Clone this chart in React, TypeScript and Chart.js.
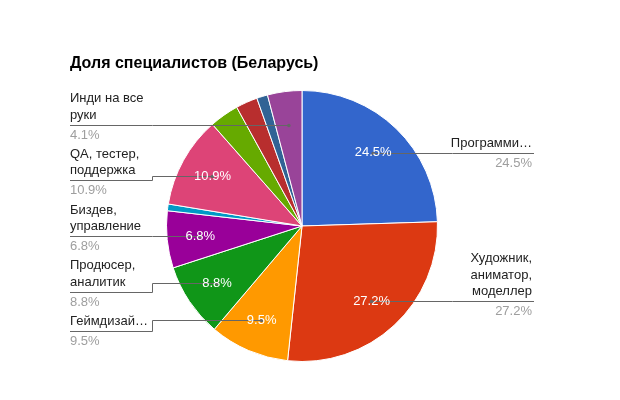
import React, { useEffect, useRef } from "react";
import { Chart, registerables } from "chart.js";

Chart.register(...registerables);

const TITLE = "Доля специалистов (Беларусь)";
const categories = [
  "Программи…",
  "Художник, аниматор, моделлер",
  "Геймдизай…",
  "Продюсер, аналитик",
  "Биздев, управление",
  "",
  "QA, тестер, поддержка",
  "",
  "",
  "",
  "Инди на все руки",
];
const values = [24.5, 27.2, 9.5, 8.8, 6.8, 0.8, 10.9, 3.5, 2.6, 1.3, 4.1];
const colors = [
  "#3366cc",
  "#dc3912",
  "#ff9900",
  "#109618",
  "#990099",
  "#0099c6",
  "#dd4477",
  "#66aa00",
  "#b82e2e",
  "#316395",
  "#994499",
];

const FONT = '"Liberation Sans", Arial, sans-serif';

function wrap(ctx: CanvasRenderingContext2D, text: string, maxW: number): string[] {
  const words = text.split(" ");
  const lines: string[] = [];
  let cur = "";
  for (const w of words) {
    const t = cur ? cur + " " + w : w;
    if (cur && ctx.measureText(t).width > maxW) {
      lines.push(cur);
      cur = w;
    } else cur = t;
  }
  if (cur) lines.push(cur);
  return lines;
}

const labelPlugin = {
  id: "labeledPie",
  afterDraw(chart: any) {
    const ctx: CanvasRenderingContext2D = chart.ctx;
    const meta = chart.getDatasetMeta(0);
    const total = values.reduce((a, b) => a + b, 0);
    ctx.save();

    ctx.font = `bold 16px ${FONT}`;
    ctx.fillStyle = "#000";
    ctx.textAlign = "left";
    ctx.textBaseline = "alphabetic";
    ctx.fillText(TITLE, 70, 68);

    const items = meta.data.map((arc: any, i: number) => {
      const p = arc.getProps(["x", "y", "startAngle", "endAngle", "outerRadius"], true);
      const mid = (p.startAngle + p.endAngle) / 2;
      const R = p.outerRadius * 0.755;
      return {
        i,
        mid,
        dx: p.x + R * Math.cos(mid),
        dy: p.y + R * Math.sin(mid),
        pct: (values[i] / total) * 100,
        lines: [] as string[],
        lineY: 0,
      };
    });

    ctx.font = `13px ${FONT}`;
    const LH = 16.5;
    const GAP = 9;
    const left: any[] = [];
    const right: any[] = [];
    items.forEach((it: any) => {
      if (!categories[it.i]) return;
      it.lines = wrap(ctx, categories[it.i], 82);
      it.lineY = it.dy;
      (Math.cos(it.mid) < 0 ? left : right).push(it);
    });
    [left, right].forEach((side) => {
      side.sort((a, b) => a.dy - b.dy);
      let prevBottom = -Infinity;
      side.forEach((l) => {
        const topOff = 6 + (l.lines.length - 1) * LH + 10;
        if (l.lineY - topOff < prevBottom + GAP) l.lineY = prevBottom + GAP + topOff;
        prevBottom = l.lineY + 14;
      });
    });

    // leader lines
    ctx.strokeStyle = "#666666";
    ctx.fillStyle = "#666666";
    ctx.lineWidth = 1;
    const drawLeader = (l: any, isLeft: boolean) => {
      const ly = Math.round(l.lineY) + 0.5;
      const dy = Math.round(l.dy) + 0.5;
      const outer = isLeft ? 70 : 534;
      const bend = isLeft ? 152.5 : 452.5;
      ctx.beginPath();
      ctx.moveTo(outer, ly);
      ctx.lineTo(bend, ly);
      ctx.lineTo(bend, dy);
      ctx.lineTo(l.dx, dy);
      ctx.stroke();
      ctx.beginPath();
      ctx.arc(l.dx, dy, 1.8, 0, Math.PI * 2);
      ctx.fill();
    };
    left.forEach((l) => drawLeader(l, true));
    right.forEach((l) => drawLeader(l, false));

    // slice texts
    ctx.font = `13px ${FONT}`;
    ctx.fillStyle = "#ffffff";
    ctx.textAlign = "center";
    ctx.textBaseline = "middle";
    items.forEach((it: any) => {
      if (it.pct >= 5) ctx.fillText(it.pct.toFixed(1) + "%", it.dx, it.dy);
    });

    // label texts
    ctx.textBaseline = "alphabetic";
    const drawLabel = (l: any, isLeft: boolean) => {
      ctx.textAlign = isLeft ? "left" : "right";
      const x = isLeft ? 70 : 532;
      const n = l.lines.length;
      ctx.fillStyle = "#222222";
      l.lines.forEach((s: string, k: number) => {
        ctx.fillText(s, x, l.lineY - 6 - (n - 1 - k) * LH);
      });
      ctx.fillStyle = "#9e9e9e";
      ctx.fillText(l.pct.toFixed(1) + "%", x, l.lineY + 14);
    };
    left.forEach((l) => drawLabel(l, true));
    right.forEach((l) => drawLabel(l, false));

    ctx.restore();
  },
};

export default function App() {
  const ref = useRef<HTMLCanvasElement | null>(null);
  useEffect(() => {
    if (!ref.current) return;
    const chart = new Chart(ref.current, {
      type: "pie",
      data: {
        labels: categories,
        datasets: [
          {
            data: values,
            backgroundColor: colors,
            borderColor: "#ffffff",
            borderWidth: 1,
          },
        ],
      },
      options: {
        responsive: false,
        maintainAspectRatio: false,
        animation: false,
        layout: { padding: { left: 166, right: 182, top: 90, bottom: 38 } },
        plugins: {
          legend: { display: false },
          tooltip: { enabled: false },
          title: { display: false },
        },
      },
      plugins: [labelPlugin],
    });
    return () => chart.destroy();
  }, []);
  return (
    <div style={{ position: "fixed", left: 0, top: 0, width: 620, height: 400, background: "#fff" }}>
      <canvas ref={ref} width={620} height={400} style={{ display: "block" }} />
    </div>
  );
}
